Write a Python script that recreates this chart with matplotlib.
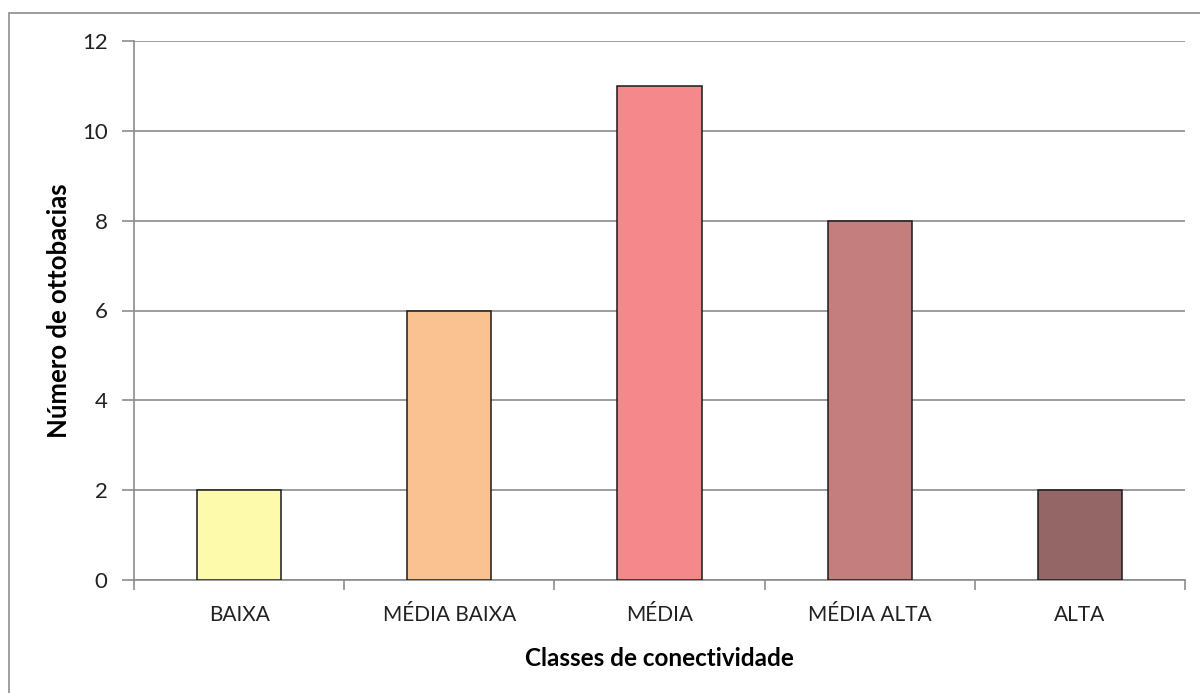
import matplotlib
matplotlib.use("Agg")
import matplotlib.pyplot as plt
from matplotlib.patches import Rectangle

plt.rcParams['font.family'] = ['Lato', 'DejaVu Sans']

classes = ['BAIXA', 'MÉDIA BAIXA', 'MÉDIA', 'MÉDIA ALTA', 'ALTA']
counts = [2, 6, 11, 8, 2]
bar_colors = ['#FDFAAC', '#FAC191', '#F4888B', '#C47E7E', '#956666']

fig = plt.figure(figsize=(12, 6.93), dpi=100)
W, H = 1200, 693

# outer chart border (only left/top visible in the original crop)
fig.patches.append(Rectangle((9 / W, -0.1), 1.2, 1 - 13 / H + 0.1, transform=fig.transFigure,
                             fill=False, edgecolor='#8c8c8c', linewidth=1.2))

ax = fig.add_axes([134 / W, 1 - 580 / H, (1185 - 134) / W, (580 - 41) / H])

x = list(range(len(classes)))
ax.bar(x, counts, width=0.4, color=bar_colors, edgecolor='#1a1a1a', linewidth=1.1, zorder=3)

ax.set_xlim(-0.5, len(classes) - 0.5)
ax.set_ylim(0, 12)
ax.set_yticks(range(0, 13, 2))
ax.yaxis.grid(True, color='#8c8c8c', linewidth=1.2, zorder=0)

ax.set_xticks(x)
ax.set_xticklabels(classes, fontsize=15, color='#222222')
ax.tick_params(axis='x', length=0, pad=18)
ax.set_xticks([i - 0.5 for i in range(len(classes) + 1)], minor=True)
ax.tick_params(axis='x', which='minor', length=7, color='#8c8c8c', width=1.2)
ax.tick_params(axis='y', length=9, color='#8c8c8c', width=1.2, labelsize=16, pad=10,
               labelcolor='#222222')

for s in ['top', 'right']:
    ax.spines[s].set_visible(False)
for s in ['left', 'bottom']:
    ax.spines[s].set_color('#8c8c8c')
    ax.spines[s].set_linewidth(1.2)

ax.set_xlabel('Classes de conectividade', fontsize=17.5, fontweight='bold', labelpad=16)
ax.set_ylabel('Número de ottobacias', fontsize=18.5, fontweight='bold', labelpad=8)

fig.savefig('out.png', dpi=100)
